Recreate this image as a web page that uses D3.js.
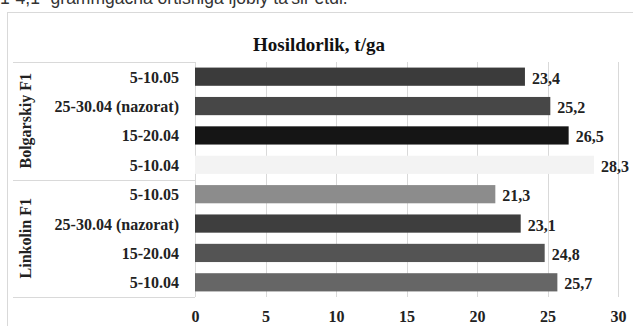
<!DOCTYPE html>
<html><head><meta charset="utf-8">
<script src="https://cdn.jsdelivr.net/npm/d3@7"></script>
<style>body{margin:0;background:#fff}svg{display:block}</style>
</head><body>
<script>
const groups = ["Bolgarskiy F1", "Linkolin F1"];
const categories = ["5-10.05", "25-30.04 (nazorat)", "15-20.04", "5-10.04"];
const bolgarskiy = [23.4, 25.2, 26.5, 28.3];
const linkolin = [21.3, 23.1, 24.8, 25.7];
const colorsB = ["#3b3b3b", "#474747", "#151515", "#f3f3f3"];
const colorsL = ["#8c8c8c", "#3e3e3e", "#545454", "#666666"];
const xTicks = [0, 5, 10, 15, 20, 25, 30];
const title = "Hosildorlik, t/ga";
const headText = "1-4,1- grammgacha ortishiga ijobiy ta'sir etdi.";

const rows = [];
categories.forEach((c, i) => rows.push({group: 0, cat: c, v: bolgarskiy[i], color: colorsB[i]}));
categories.forEach((c, i) => rows.push({group: 1, cat: c, v: linkolin[i], color: colorsL[i]}));

const W = 633, H = 326;
const svg = d3.select("body").append("svg").attr("width", W).attr("height", H);
const serif = "'Liberation Serif','Times New Roman',serif";

svg.append("text").attr("x", 0).attr("y", 4).attr("font-family", "'Liberation Sans',Arial,sans-serif")
  .attr("font-size", 17.5).attr("fill", "#333").text(headText);

// outer frame
svg.append("rect").attr("x", 7.5).attr("y", 12.5).attr("width", W).attr("height", H)
  .attr("fill", "none").attr("stroke", "#d9d9d9");

const x = d3.scaleLinear().domain([0, 30]).range([195, 618]);
const y = d3.scaleBand().domain(d3.range(rows.length)).range([62, 297]).paddingInner(0.38).paddingOuter(0.19);

svg.append("text").attr("x", 319).attr("y", 51).attr("text-anchor", "middle")
  .attr("font-family", serif).attr("font-weight", "bold").attr("font-size", 19).attr("fill", "#111").text(title);

// gridlines
svg.append("g").selectAll("line").data(xTicks).join("line")
  .attr("x1", d => Math.round(x(d)) + 0.5).attr("x2", d => Math.round(x(d)) + 0.5)
  .attr("y1", 62).attr("y2", 297).attr("stroke", "#d9d9d9");

// group separators
const sepY = [62, y.step() * 4 + 62, 297];
svg.append("g").selectAll("line").data(sepY).join("line")
  .attr("x1", 13).attr("x2", 195).attr("y1", d => Math.round(d) + 0.5).attr("y2", d => Math.round(d) + 0.5)
  .attr("stroke", "#d9d9d9");

// bars
svg.append("g").selectAll("rect").data(rows).join("rect")
  .attr("x", x(0)).attr("y", (d, i) => y(i)).attr("width", d => x(d.v) - x(0)).attr("height", y.bandwidth())
  .attr("fill", d => d.color);

const fs = 16;
// value labels
svg.append("g").selectAll("text").data(rows).join("text")
  .attr("x", d => x(d.v) + 7).attr("y", (d, i) => y(i) + y.bandwidth() / 2 + 7)
  .attr("font-family", serif).attr("font-weight", "bold").attr("font-size", fs).attr("fill", "#222")
  .text(d => d.v.toFixed(1).replace(".", ","));

// category labels
svg.append("g").selectAll("text").data(rows).join("text")
  .attr("x", 179).attr("y", (d, i) => y(i) + y.bandwidth() / 2 + 6).attr("text-anchor", "end")
  .attr("font-family", serif).attr("font-weight", "bold").attr("font-size", fs).attr("fill", "#222")
  .text(d => d.cat);

// group labels
groups.forEach((g, gi) => {
  const cy = (y(gi * 4) + y(gi * 4 + 3) + y.bandwidth()) / 2;
  svg.append("text").attr("transform", `translate(31,${cy}) rotate(-90)`).attr("text-anchor", "middle")
    .attr("font-family", serif).attr("font-weight", "bold").attr("font-size", fs).attr("fill", "#222").text(g);
});

// x axis tick labels
const axis = d3.axisBottom(x).tickValues(xTicks).tickSize(0).tickFormat(d3.format("d"));
const ax = svg.append("g").attr("transform", "translate(0,308)").call(axis);
ax.select(".domain").remove();
ax.selectAll("text").attr("font-family", serif).attr("font-weight", "bold").attr("font-size", fs).attr("fill", "#222");
</script>
</body></html>
